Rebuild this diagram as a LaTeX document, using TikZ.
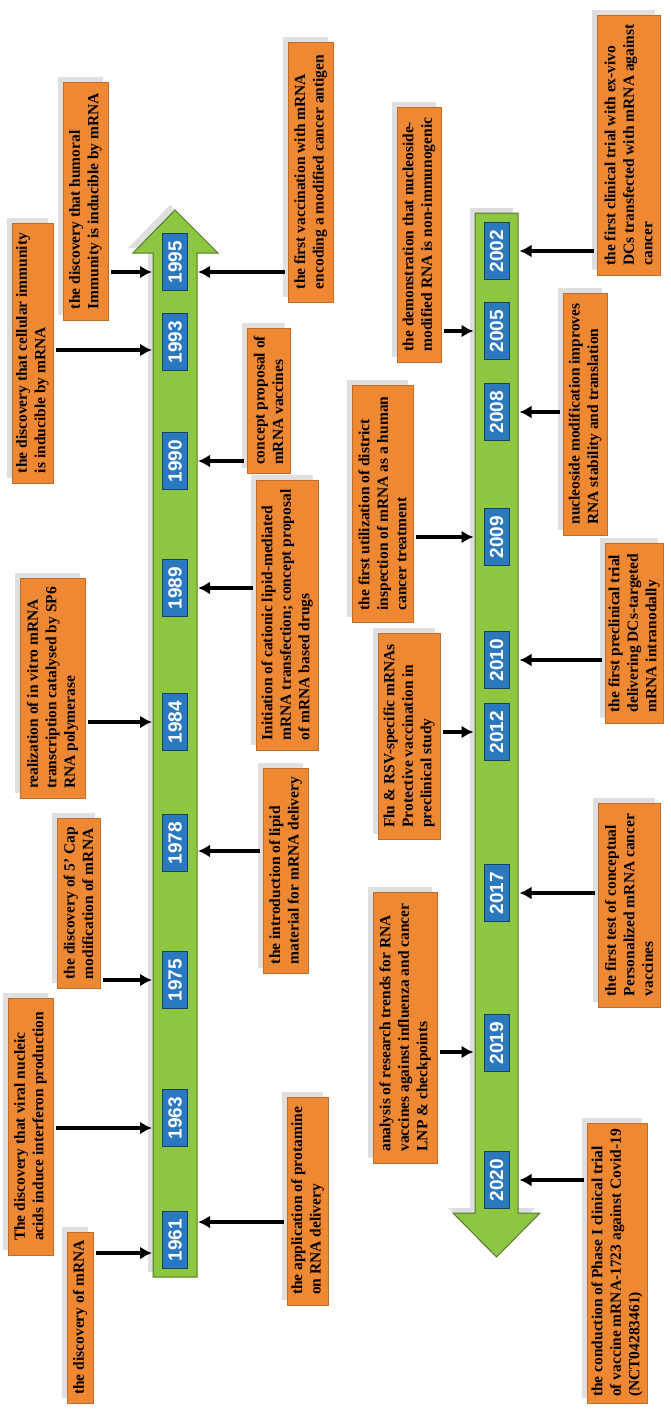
\documentclass[tikz,border=0pt]{standalone}
\usepackage{fontspec}
\setmainfont{Liberation Serif}
\setsansfont{Liberation Sans}
\usepackage{tikz}
\usetikzlibrary{shapes, arrows.meta, positioning, shadows}
\definecolor{evorange}{HTML}{EF8832}
\definecolor{yearblue}{HTML}{2A78BE}
\definecolor{shaftgreen}{HTML}{8DC641}
\tikzstyle{event}=[draw=evorange!80!black, fill=evorange, rectangle, rotate=90, align=left, inner sep=3pt, text=black, font=\fontsize{15.5}{18.5}\selectfont\bfseries, drop shadow={shadow xshift=-5pt, shadow yshift=5pt, opacity=.25}]
\tikzstyle{year}=[draw=yearblue!55!black, fill=yearblue, rectangle, rotate=90, minimum width=57pt, minimum height=25pt, inner sep=0pt, text=white, font=\sffamily\bfseries\fontsize{19}{19}\selectfont]
\tikzstyle{shaft}=[draw=shaftgreen!60!black, fill=shaftgreen, line width=1pt, drop shadow={shadow xshift=-5pt, shadow yshift=5pt, opacity=.25}]
\tikzstyle{link}=[->, line width=3.5pt, shorten <=3pt, shorten >=23pt]

\begin{document}
\begin{tikzpicture}[x=1pt, y=-1pt, >={Latex[length=12pt,width=13pt]}]
    \useasboundingbox (0,0) rectangle (671,1413);
    \draw[shaft] (153,1277) -- (153,253) -- (133,253) -- (175,210) -- (218,253) -- (197,253) -- (197,1277) -- cycle;
    \draw[shaft] (475,213) -- (518,213) -- (518,1213) -- (540,1213) -- (496.5,1257) -- (453,1213) -- (475,1213) -- cycle;
    \node[year] (y1961) at (175,1240) {1961};
    \node[year] (y1963) at (175,1118) {1963};
    \node[year] (y1975) at (175,980) {1975};
    \node[year] (y1978) at (175,843) {1978};
    \node[year] (y1984) at (175,722) {1984};
    \node[year] (y1989) at (175,588) {1989};
    \node[year] (y1990) at (175,461) {1990};
    \node[year] (y1993) at (175,342) {1993};
    \node[year] (y1995) at (175,262) {1995};
    \node[year] (y2002) at (496.5,251) {2002};
    \node[year] (y2005) at (496.5,331) {2005};
    \node[year] (y2008) at (496.5,412) {2008};
    \node[year] (y2009) at (496.5,537) {2009};
    \node[year] (y2010) at (496.5,660) {2010};
    \node[year] (y2012) at (496.5,732) {2012};
    \node[year] (y2017) at (496.5,893) {2017};
    \node[year] (y2019) at (496.5,1043) {2019};
    \node[year] (y2020) at (496.5,1180) {2020};
    \node[event, minimum width=260pt, minimum height=41pt] (cellular) at (32.5,353) {the discovery that cellular immunity\\is inducible by mRNA};
    \node[event, minimum width=238pt, minimum height=45pt] (humoral) at (85.5,201) {the discovery that humoral\\Immunity is inducible by mRNA};
    \node[event, minimum width=220pt, minimum height=65pt] (sp6) at (52.5,688) {realization of in vitro mRNA\\transcription catalysed by SP6\\RNA polymerase};
    \node[event, minimum width=170pt, minimum height=43pt] (capmod) at (78.5,903) {the discovery of 5' Cap\\modification of mRNA};
    \node[event, minimum width=257pt, minimum height=45pt] (interferon) at (30.5,1126.5) {The discovery that viral nucleic\\acids induce interferon production};
    \node[event, minimum width=171pt, minimum height=26pt] (mrna) at (80,1317.5) {the discovery of mRNA};
    \node[event, minimum width=260pt, minimum height=45pt] (antigen) at (310.5,172) {the first vaccination with mRNA\\encoding a modified cancer antigen};
    \node[event, minimum width=145pt, minimum height=43pt] (concept) at (268.5,400.5) {concept proposal of\\mRNA vaccines};
    \node[event, minimum width=270pt, minimum height=62pt] (cationic) at (287,615) {Initiation of cationic lipid-mediated\\mRNA transfection; concept proposal\\of mRNA based drugs};
    \node[event, minimum width=205pt, minimum height=45pt] (lipid) at (285.5,870.5) {the introduction of lipid\\material for mRNA delivery};
    \node[event, minimum width=208pt, minimum height=41pt] (protamine) at (307.5,1201) {the application of protamine\\on RNA delivery};
    \node[event, minimum width=255pt, minimum height=44pt] (nucimm) at (419,234.5) {the demonstration that nucleoside-\\modified RNA is non-immunogenic};
    \node[event, minimum width=237pt, minimum height=61pt] (district) at (382.5,503.5) {the first utilization of district\\inspection of mRNA as a human\\cancer treatment};
    \node[event, minimum width=206pt, minimum height=62pt] (flursv) at (409,736) {Flu \& RSV-specific mRNAs\\Protective vaccination in\\preclinical study};
    \node[event, minimum width=271pt, minimum height=64pt] (trends) at (405,1027.5) {analysis of research trends for RNA\\vaccines against influenza and cancer\\LNP \& checkpoints};
    \node[event, minimum width=260pt, minimum height=63pt] (exvivo) at (628.5,145) {the first clinical trial with ex-vivo\\DCs transfected with mRNA against\\cancer};
    \node[event, minimum width=242pt, minimum height=44pt] (nucmod) at (585,414) {nucleoside modification improves\\RNA stability and translation};
    \node[event, minimum width=180pt, minimum height=58pt] (intranodal) at (634,633) {the first preclinical trial\\delivering DCs-targeted\\mRNA intranodally};
    \node[event, minimum width=204pt, minimum height=62pt] (personal) at (629,905) {the first test of conceptual\\Personalized mRNA cancer\\vaccines};
    \node[event, minimum width=280pt, minimum height=60pt] (covid) at (617,1263) {the conduction of Phase I clinical trial\\of vaccine mRNA-1723 against Covid-19\\(NCT04283461)};
    \coordinate (p1995) at ([yshift=-10pt]y1995);
    \coordinate (p1993) at ([yshift=-8pt]y1993);
    \coordinate (p1978) at ([yshift=-8pt]y1978);
    \coordinate (p1963) at ([yshift=-10pt]y1963);
    \coordinate (p1961) at ([yshift=-13pt]y1961);
    \coordinate (q1961) at ([yshift=18pt]y1961);
    \coordinate (p2019) at ([yshift=-9pt]y2019);
    \draw[link] (cellular.south |- p1993) -- (p1993);
    \draw[link] (humoral.south |- p1995) -- (p1995);
    \draw[link] (sp6.south |- y1984) -- (y1984.center);
    \draw[link] (capmod.south |- y1975) -- (y1975.center);
    \draw[link] (interferon.south |- p1963) -- (p1963);
    \draw[link] (mrna.south |- p1961) -- (p1961);
    \draw[link] (antigen.north |- p1995) -- (p1995);
    \draw[link] (concept.north |- y1990) -- (y1990.center);
    \draw[link] (cationic.north |- y1989) -- (y1989.center);
    \draw[link] (lipid.north |- p1978) -- (p1978);
    \draw[link] (protamine.north |- q1961) -- (q1961);
    \draw[link] (nucimm.south |- y2005) -- (y2005.center);
    \draw[link] (district.south |- y2009) -- (y2009.center);
    \draw[link] (flursv.south |- y2012) -- (y2012.center);
    \draw[link] (trends.south |- p2019) -- (p2019);
    \draw[link] (exvivo.north |- y2002) -- (y2002.center);
    \draw[link] (nucmod.north |- y2008) -- (y2008.center);
    \draw[link] (intranodal.north |- y2010) -- (y2010.center);
    \draw[link] (personal.north |- y2017) -- (y2017.center);
    \draw[link] (covid.north |- y2020) -- (y2020.center);
\end{tikzpicture}
\end{document}
